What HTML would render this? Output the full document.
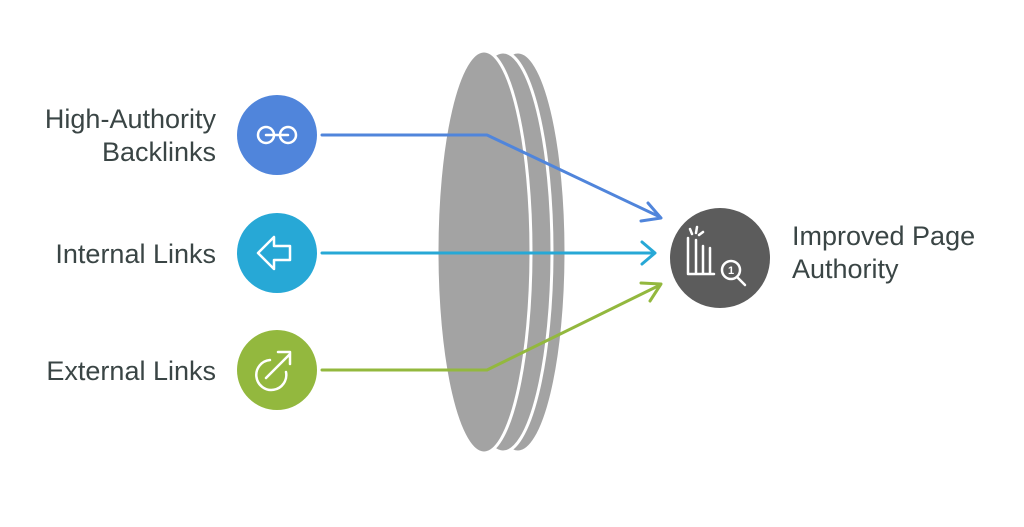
<!DOCTYPE html>
<html><head><style>
body{margin:0;background:#fff;width:1024px;height:522px;overflow:hidden;font-family:"Liberation Sans",sans-serif}
</style></head><body>
<svg width="1024" height="522" viewBox="0 0 1024 522" xmlns="http://www.w3.org/2000/svg">
<g fill="#a3a3a3" stroke="#fff" stroke-width="3">
<ellipse cx="518" cy="252" rx="48" ry="200"/>
<ellipse cx="503" cy="252" rx="49" ry="200"/>
<ellipse cx="484" cy="252" rx="47" ry="201"/>
</g>
<g fill="none" stroke-width="3" stroke-linejoin="round" stroke-linecap="round">
<polyline points="322,135 487,135 660,217" stroke="#5085db"/>
<polyline points="648,203 661,218 641,221" stroke="#5085db"/>
<line x1="322" y1="253" x2="654" y2="253" stroke="#27a8d6"/>
<polyline points="642,242 655,253 642,264" stroke="#27a8d6"/>
<polyline points="322,370 487,370 660,285" stroke="#93b83e"/>
<polyline points="641,283 661,284 650,301" stroke="#93b83e"/>
</g>
<circle cx="277" cy="135" r="40" fill="#5085db"/>
<circle cx="277" cy="253" r="40" fill="#27a8d6"/>
<circle cx="277" cy="370" r="40" fill="#93b83e"/>
<circle cx="720" cy="258" r="50" fill="#5c5c5c"/>
<g fill="none" stroke="#fff" stroke-width="2.5" stroke-linecap="round" stroke-linejoin="round">
<circle cx="266" cy="135" r="8"/><circle cx="288" cy="135" r="8"/>
<path d="M266 135 h22"/>
<path d="M258 253 l16 -16 v9 h16 v14 h-16 v9 z"/>
<path d="M270 360 a15 15 0 1 0 16 12 M266 378 l24 -24 M278 352 h12 v12"/>
<path d="M688 238 v36 h26 M696 240 v34 M703 246 v28 M710 248 v26"/>
<path d="M690 229 l2 5 M697 227 l-1 6 M703 232 l-4 3"/>
<circle cx="731" cy="270" r="9"/>
<path d="M737 277 l8 8"/>
</g>
<text x="731" y="274" font-size="11" font-weight="bold" fill="#fff" text-anchor="middle">1</text>
<g font-size="27" fill="#3a4545" text-anchor="end">
<text x="216" y="128">High-Authority</text>
<text x="216" y="161">Backlinks</text>
<text x="216" y="263">Internal Links</text>
<text x="216" y="380">External Links</text>
</g>
<g font-size="27" fill="#3a4545">
<text x="792" y="245">Improved Page</text>
<text x="792" y="278">Authority</text>
</g>
</svg>
</body></html>
